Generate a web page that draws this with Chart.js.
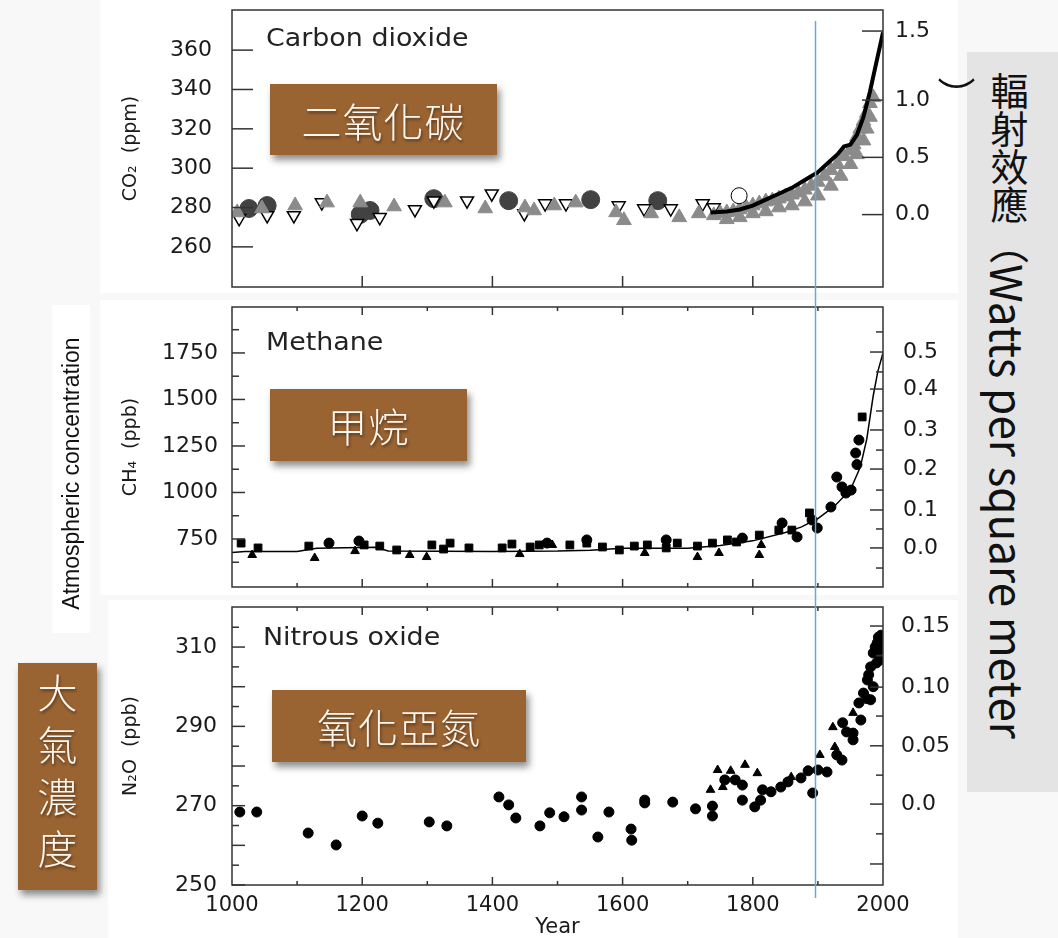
<!DOCTYPE html>
<html>
<head>
<meta charset="utf-8">
<script src="https://cdn.jsdelivr.net/npm/chart.js@4.4.1/dist/chart.umd.min.js"></script>
<style>
  body { margin:0; background:#f8f8f8; width:1058px; height:938px; overflow:hidden; position:relative; font-family:"DejaVu Sans", sans-serif; }
  canvas { position:absolute; left:0; }
  .panel { position:absolute; background:#fff; }
  .title { position:absolute; font-size:24px; color:#222; transform:scaleX(1.12); transform-origin:left center; white-space:nowrap; }
  .brown { position:absolute; background:#9a6332; color:#fbf6ee; font-family:"Noto Sans CJK TC", sans-serif; font-size:40px; font-weight:300;
           display:flex; align-items:center; justify-content:center; box-shadow:3px 5px 7px rgba(0,0,0,0.45); text-shadow:1px 2px 3px rgba(0,0,0,0.45); letter-spacing:1px; }
  .vert { writing-mode:vertical-rl; }
</style>
</head>
<body>
<div class="panel" style="left:100px;top:0;width:858px;height:293px"></div>
<div class="panel" style="left:100px;top:300px;width:858px;height:295px"></div>
<div class="panel" style="left:108px;top:600px;width:850px;height:338px"></div>
<div class="panel" style="left:52px;top:305px;width:38px;height:328px"></div>

<canvas id="co2Chart" width="1058" height="300" style="top:0"></canvas>
<canvas id="ch4Chart" width="1058" height="297" style="top:300px"></canvas>
<canvas id="n2oChart" width="1058" height="341" style="top:597px"></canvas>

<div class="title" style="left:266px;top:24px">Carbon dioxide</div>
<div class="title" style="left:266px;top:328px">Methane</div>
<div class="title" style="left:263px;top:623px">Nitrous oxide</div>

<div class="brown" style="left:270px;top:84px;width:227px;height:71px">二氧化碳</div>
<div class="brown" style="left:270px;top:389px;width:197px;height:72px">甲烷</div>
<div class="brown" style="left:272px;top:690px;width:254px;height:72px">氧化亞氮</div>
<div class="brown vert" style="left:18px;top:663px;width:79px;height:227px;font-size:40px;letter-spacing:12px;justify-content:center">大氣濃度</div>

<div style="position:absolute;left:52px;top:318px;width:38px;height:310px;display:flex;align-items:center;justify-content:center">
  <div style="transform:rotate(-90deg);white-space:nowrap;font-family:'Liberation Sans',sans-serif;font-size:23px;color:#111">Atmospheric concentration</div>
</div>

<div style="position:absolute;left:967px;top:52px;width:91px;height:740px;background:#e4e4e4"></div>
<div class="vert" style="position:absolute;left:987px;top:72px;font-family:'Noto Sans CJK TC',sans-serif;font-size:38px;color:#111;white-space:nowrap;line-height:44px">輻射效應<span style="font-size:40px">（</span><span style="font-size:44px">Watts per square meter</span></div>
<div class="vert" style="position:absolute;left:936px;top:77px;font-family:'Noto Sans CJK TC',sans-serif;font-size:38px;color:#111;line-height:40px">）</div>

<script>
// ---- data ----
var years = { min: 1000, max: 2000 };
var blueLineYear = 1895;
var xTickLabels = [1000, 1200, 1400, 1600, 1800, 2000];

// Carbon dioxide (ppm)
var co2GrayTriYears = [1008,1046,1097,1146,1197,1249,1327,1389,1450,1464,1495,1528,1590,1602,1644,1687,1717,
  1740,1750,1760,1770,1780,1790,1800,1810,1820,1830,1840,1850,1860,1870,1880,1890,1900,1910,1920,1930,1940,1950,1955,1960,1965,1970,1975,1980,1985];
var co2GrayTriPpm = [277.5,279.5,281,282.5,282.5,280.5,282.5,279.5,280,278.5,281,282.5,277.5,273.5,277,275,277,
  276,277,277.5,278,279,280,281,282,283,283.5,284.5,285.5,286.5,287.5,289,291,293,296,299,302,306,309,312,316,320,324,328,333,336];
// lower edge of the grey band
var co2GrayLowYears = [1760,1780,1800,1820,1840,1860,1880,1900,1920,1935,1950,1960,1970,1975,1980];
var co2GrayLowPpm = [274,275,277,278,280,281,283,286,291,296,302,307,314,320,326];
var co2DarkCircleYears = [1026,1054,1197,1212,1310,1425,1551,1654];
var co2DarkCirclePpm = [279.5,281,276.5,278.5,284.5,283.5,284,283.5];
var co2OpenTriYears = [1011,1054,1095,1138,1192,1227,1281,1310,1361,1399,1449,1481,1513,1594,1633,1674,1723,1740];
var co2OpenTriPpm = [274.5,276,276,282.5,272,275,279,283.5,283.5,287,277,282,282,281,279.5,279.5,282,280];
var co2OpenCircleYears = [1779];
var co2OpenCirclePpm = [286];
var co2LineYears = [1735,1760,1780,1800,1820,1840,1860,1880,1900,1920,1930,1940,1950,1960,1970,1980,1990,2000];
var co2LinePpm = [277.5,278,279,281,284,287,290,294,298,304,307,311,312,317,326,339,354,369];
var co2Ticks = [260, 280, 300, 320, 340, 360];
var co2ForcingLabels = ['0.0', '0.5', '1.0', '1.5'];
var co2ForcingAt = [276.4, 305.5, 334.6, 369.7];

// Methane (ppb)
var ch4SquareYears = [1014,1040,1118,1203,1227,1253,1307,1325,1335,1364,1415,1430,1458,1472,1519,1545,1569,1595,1618,1638,1667,1684,1715,1738,1761,1775,1810,1840,1860,1887,1968];
var ch4SquarePpb = [728,702,712,718,712,691,718,696,728,702,702,723,707,718,718,728,707,691,712,718,702,728,712,728,745,734,771,798,798,890,1406];
var ch4CircleYears = [1149,1195,1484,1545,1667,1784,1845,1868,1891,1899,1920,1929,1937,1943,1951,1958,1960,1963];
var ch4CirclePpb = [728,739,728,745,745,755,836,761,852,809,922,1083,1030,997,1013,1212,1150,1282];
var ch4TriYears = [1031,1127,1189,1273,1299,1442,1492,1634,1715,1748,1810,1813];
var ch4TriPpb = [664,648,685,664,653,669,718,675,653,675,664,718];
var ch4LineYears = [1000,1020,1100,1130,1220,1240,1400,1500,1550,1600,1700,1750,1800,1850,1875,1900,1925,1950,1965,1975,1985,1992,2000];
var ch4LinePpb = [678,683,683,700,705,685,683,685,690,700,700,715,740,785,815,860,925,1015,1135,1285,1520,1650,1750];
var ch4Ticks = [750, 1000, 1250, 1500, 1750];
var ch4MinorTicks = [625, 875, 1125, 1375, 1625, 1875];
var ch4ForcingLabels = ['0.0', '0.1', '0.2', '0.3', '0.4', '0.5'];
var ch4ForcingAt = [702, 906, 1126, 1336, 1556, 1755];
var ch4ForcingMinor = [594, 804, 1013, 1228, 1438, 1648, 1863];

// Nitrous oxide (ppb)
var n2oBlobYears = [1012,1038,1117,1160,1200,1224,1303,1330,1410,1425,1436,1473,1488,1510,1537,1537,1562,1579,1613,1614,1634,1634,1677,1712,1738,1738,1757,1773,1784,1784,1803,1812,1815,1828,1843,1854,1874,1885,1892,1900,1914,1929,1937,1938,1944,1954,1954,1963,1966,1970,1975,1976,1978,1981,1981,1985,1985,1988,1990,1991,1993,1995,1995,1997,1998,1999];
var n2oBlobPpb = [268.4,268.4,263.1,260.1,267.4,265.6,265.9,264.9,272.2,270.2,266.9,264.9,268.2,267.2,272.2,268.9,262.1,268.4,264.1,261.3,271.4,270.7,270.9,269.2,269.9,267.4,276.5,276.5,271.4,275.2,269.7,271.4,274,273.5,274.7,276,277,278.8,273.2,279,278.5,282.8,281.5,290.9,288.6,288.3,286.6,295.9,291.6,298.4,297,301.7,303,305,296.7,308.5,300,310,306,311,312.5,309.3,306.7,313,310,311];
var n2oTriYears = [1735,1746,1754,1766,1788,1807,1859,1903,1923,1926,1954];
var n2oTriPpb = [274,279,274.7,278.8,280.3,278.2,277.2,282.8,289.8,284.8,293.4];
var n2oTicks = [250, 270, 290, 310];
var n2oMajor = [250, 260, 270, 280, 290, 300, 310];
var n2oMinor = [255, 265, 275, 285, 295, 305, 315];
var n2oForcingLabels = ['0.0', '0.05', '0.10', '0.15'];
var n2oForcingAt = [270.4, 285.1, 299.9, 315.3];
var n2oForcingMajor = [255.3, 270.4, 285.1, 299.9, 315.3];
var n2oForcingMinor = [262.9, 277.7, 292.6, 307.8];

function pts(xs, ys) {
  var out = [];
  for (var i = 0; i < xs.length; i++) out.push({ x: xs[i], y: ys[i] });
  return out;
}

// box, tick marks and the blue marker line
var framePlugin = {
  id: 'frame',
  afterDraw: function (chart) {
    var o = chart.options.plugins.frame;
    var a = chart.chartArea, ctx = chart.ctx;
    var xs = chart.scales.x, ys = chart.scales.y;
    ctx.save();
    ctx.strokeStyle = '#333';
    ctx.lineWidth = 1.5;
    ctx.strokeRect(a.left, a.top, a.right - a.left, a.bottom - a.top);
    o.marks.forEach(function (m) {
      m.values.forEach(function (v) {
        ctx.beginPath();
        if (m.side === 'left' || m.side === 'right') {
          var py = ys.getPixelForValue(v);
          if (m.side === 'left') { ctx.moveTo(a.left, py); ctx.lineTo(a.left + m.len, py); }
          else { ctx.moveTo(a.right, py); ctx.lineTo(a.right - m.len, py); }
        } else {
          var px = xs.getPixelForValue(v);
          if (m.side === 'bottom') { ctx.moveTo(px, a.bottom); ctx.lineTo(px, a.bottom - m.len); }
          else { ctx.moveTo(px, a.top); ctx.lineTo(px, a.top + m.len); }
        }
        ctx.stroke();
      });
    });
    var bx = Math.round(xs.getPixelForValue(blueLineYear)) + 0.5;
    ctx.strokeStyle = '#6aa6e2';
    ctx.lineWidth = 1.5;
    ctx.beginPath();
    ctx.moveTo(bx, o.blueFrom);
    ctx.lineTo(bx, o.blueTo);
    ctx.stroke();
    ctx.restore();
  }
};

var tickFont = { family: 'DejaVu Sans', size: 22 };
var tickColor = '#1a1a1a';

function noPad(s) { s.paddingTop = 0; s.paddingBottom = 0; s.paddingLeft = 0; s.paddingRight = 0; }

function makeChart(id, cfg) {
  var showX = !!cfg.xLabels;
  return new Chart(document.getElementById(id), {
    type: 'scatter',
    data: { datasets: cfg.datasets },
    options: {
      responsive: false,
      animation: false,
      layout: { padding: cfg.padding },
      plugins: { legend: { display: false }, tooltip: { enabled: false }, frame: cfg.frame },
      scales: {
        x: {
          type: 'linear', min: years.min, max: years.max,
          display: showX,
          grid: { display: false, drawTicks: false },
          border: { display: false },
          afterBuildTicks: function (s) { s.ticks = xTickLabels.map(function (v) { return { value: v }; }); },
          afterFit: function (s) { noPad(s); if (showX) s.height = cfg.xHeight; },
          ticks: { font: { family: 'DejaVu Sans', size: 21 }, color: tickColor, padding: 8, autoSkip: false, maxRotation: 0,
                   callback: function (v) { return String(v); } },
          title: { display: showX, text: 'Year', font: { family: 'DejaVu Sans', size: 21 }, color: tickColor, padding: { top: 0, bottom: -2 } }
        },
        y: {
          type: 'linear', position: 'left', min: cfg.yMin, max: cfg.yMax,
          grid: { display: false, drawTicks: false },
          border: { display: false },
          afterBuildTicks: function (s) { s.ticks = cfg.yTicks.map(function (v) { return { value: v }; }); },
          afterFit: function (s) { noPad(s); s.width = 232 - cfg.padding.left; },
          ticks: { font: tickFont, color: tickColor, padding: cfg.yPad, autoSkip: false,
                   callback: function (v) { return String(v); } },
          title: { display: true, text: cfg.yTitle, font: { family: 'DejaVu Sans', size: 19 }, color: tickColor, padding: { top: 10, bottom: 0 } }
        },
        y2: {
          type: 'linear', position: 'right', min: cfg.yMin, max: cfg.yMax,
          grid: { display: false, drawTicks: false },
          border: { display: false },
          afterBuildTicks: function (s) { s.ticks = cfg.rAt.map(function (v) { return { value: v }; }); },
          afterFit: function (s) { noPad(s); s.width = 1058 - cfg.padding.right - 883; },
          ticks: { font: tickFont, color: tickColor, padding: cfg.rPad, autoSkip: false,
                   callback: function (v, i) { return cfg.rLabels[i]; } }
        }
      }
    },
    plugins: [framePlugin]
  });
}

var hundreds = [1100, 1300, 1500, 1700, 1900];
var twoHundreds = [1200, 1400, 1600, 1800];

makeChart('co2Chart', {
  padding: { left: 110, right: 75, top: 10, bottom: 13 },
  yMin: 239.6, yMax: 380.4, yTicks: co2Ticks, yPad: 20, yTitle: 'CO₂  (ppm)',
  rAt: co2ForcingAt, rLabels: co2ForcingLabels, rPad: 12,
  frame: {
    blueFrom: 21, blueTo: 300,
    marks: [
      { side: 'left', values: co2Ticks, len: 21 },
      { side: 'right', values: co2ForcingAt, len: 21 },
      { side: 'bottom', values: twoHundreds, len: 11 }
    ]
  },
  datasets: [
    { data: pts(co2LineYears, co2LinePpm), showLine: true, borderColor: '#000', borderWidth: 4, pointRadius: 0 },
    { data: pts(co2OpenCircleYears, co2OpenCirclePpm), pointStyle: 'circle', pointRadius: 8, backgroundColor: '#fff', borderColor: '#000', borderWidth: 1 },
    { data: pts(co2GrayTriYears, co2GrayTriPpm), pointStyle: 'triangle', pointRadius: 8.5, backgroundColor: '#8b8b8b', borderColor: '#8b8b8b', borderWidth: 1 },
    { data: pts(co2GrayLowYears, co2GrayLowPpm), pointStyle: 'triangle', pointRadius: 8.5, backgroundColor: '#8b8b8b', borderColor: '#8b8b8b', borderWidth: 1 },
    { data: pts(co2OpenTriYears, co2OpenTriPpm), pointStyle: 'triangle', rotation: 180, pointRadius: 7.5, backgroundColor: '#fff', borderColor: '#000', borderWidth: 1.5 },
    { data: pts(co2DarkCircleYears, co2DarkCirclePpm), pointStyle: 'circle', pointRadius: 9, backgroundColor: '#424242', borderColor: '#424242', borderWidth: 1 }
  ]
});

makeChart('ch4Chart', {
  padding: { left: 110, right: 75, top: 7, bottom: 10 },
  yMin: 492, yMax: 1997, yTicks: ch4Ticks, yPad: 14, yTitle: 'CH₄  (ppb)',
  rAt: ch4ForcingAt, rLabels: ch4ForcingLabels, rPad: 20,
  frame: {
    blueFrom: 0, blueTo: 297,
    marks: [
      { side: 'left', values: ch4Ticks, len: 13 },
      { side: 'left', values: ch4MinorTicks, len: 7 },
      { side: 'right', values: ch4ForcingAt, len: 13 },
      { side: 'right', values: ch4ForcingMinor, len: 7 },
      { side: 'bottom', values: twoHundreds, len: 8 },
      { side: 'bottom', values: hundreds, len: 4 },
      { side: 'top', values: twoHundreds, len: 8 },
      { side: 'top', values: hundreds, len: 4 }
    ]
  },
  datasets: [
    { data: pts(ch4LineYears, ch4LinePpb), showLine: true, borderColor: '#000', borderWidth: 1.5, pointRadius: 0 },
    { data: pts(ch4SquareYears, ch4SquarePpb), pointStyle: 'rect', pointRadius: 5.5, backgroundColor: '#000', borderColor: '#000', borderWidth: 1 },
    { data: pts(ch4CircleYears, ch4CirclePpb), pointStyle: 'circle', pointRadius: 5, backgroundColor: '#000', borderColor: '#000', borderWidth: 1 },
    { data: pts(ch4TriYears, ch4TriPpb), pointStyle: 'triangle', pointRadius: 5, backgroundColor: '#000', borderColor: '#000', borderWidth: 1 }
  ]
});

makeChart('n2oChart', {
  padding: { left: 110, right: 75, top: 10, bottom: 0 },
  yMin: 250, yMax: 320.1, yTicks: n2oTicks, yPad: 15, yTitle: 'N₂O  (ppb)',
  rAt: n2oForcingAt, rLabels: n2oForcingLabels, rPad: 18,
  xLabels: xTickLabels, xHeight: 53,
  frame: {
    blueFrom: 0, blueTo: 301,
    marks: [
      { side: 'left', values: n2oMajor, len: 13 },
      { side: 'left', values: n2oMinor, len: 7 },
      { side: 'right', values: n2oForcingMajor, len: 13 },
      { side: 'right', values: n2oForcingMinor, len: 7 },
      { side: 'bottom', values: twoHundreds, len: 8 },
      { side: 'bottom', values: hundreds, len: 4 },
      { side: 'top', values: twoHundreds, len: 8 },
      { side: 'top', values: hundreds, len: 4 }
    ]
  },
  datasets: [
    { data: pts(n2oTriYears, n2oTriPpb), pointStyle: 'triangle', pointRadius: 5, backgroundColor: '#000', borderColor: '#000', borderWidth: 1 },
    { data: pts(n2oBlobYears, n2oBlobPpb), pointStyle: 'circle', pointRadius: 5, backgroundColor: '#000', borderColor: '#000', borderWidth: 1 }
  ]
});
</script>
</body>
</html>
